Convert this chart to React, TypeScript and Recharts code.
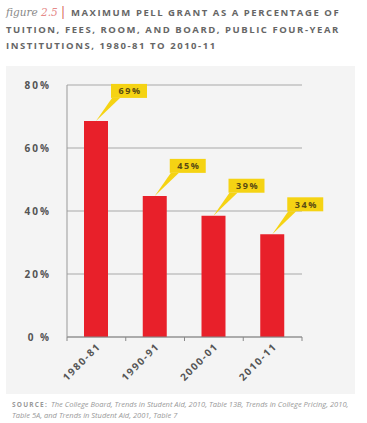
import { BarChart, Bar, XAxis, YAxis, CartesianGrid, LabelList } from 'recharts';

const years = ['1980-81', '1990-91', '2000-01', '2010-11'];
const pellShare = [68.6, 44.8, 38.5, 32.6];
const calloutLabels = ['69%', '45%', '39%', '34%'];
const yTicks = [0, 20, 40, 60, 80];

const data = years.map((year, i) => ({ year, value: pellShare[i], label: calloutLabels[i] }));

const CHART_W = 367;
const CHART_H = 423;
const PLOT_LEFT = 67;
const PLOT_RIGHT = 302;
const BAND = (PLOT_RIGHT - PLOT_LEFT) / years.length;

const FONT = '"Open Sans", "DejaVu Sans", sans-serif';

function YTick({ x, y, payload }: any) {
  return (
    <text
      x={x - 2}
      y={y}
      dy={4}
      textAnchor="end"
      fill="#555"
      fontFamily={FONT}
      fontWeight={700}
      fontSize={10}
      style={{ letterSpacing: '2px' }}
    >
      {payload.value === 0 ? '0 %' : `${payload.value}%`}
    </text>
  );
}

function XTick({ x, y, payload, index }: any) {
  const left = x - BAND / 2;
  return (
    <g>
      <line x1={left} y1={y - 8} x2={left} y2={y - 4} stroke="#888" />
      {index === years.length - 1 && (
        <line x1={x + BAND / 2} y1={y - 8} x2={x + BAND / 2} y2={y - 4} stroke="#888" />
      )}
      <text
        x={x + 5}
        y={y + 2}
        textAnchor="end"
        transform={`rotate(-45, ${x + 5}, ${y + 2})`}
        fill="#555"
        fontFamily={FONT}
        fontWeight={700}
        fontSize={10}
        style={{ letterSpacing: '1.6px' }}
      >
        {payload.value}
      </text>
    </g>
  );
}

function Callout(props: any) {
  const { x, y, width, index } = props;
  const cx = x + width / 2;
  const bx = cx + 15;
  const bw = 36;
  const bh = 14;
  const by = y - 23 - bh;
  return (
    <g>
      <polygon points={`${cx},${y} ${bx + 1},${by + bh} ${bx + 9},${by + bh}`} fill="#f5d313" />
      <rect x={bx} y={by} width={bw} height={bh} fill="#f5d313" />
      <text
        x={bx + bw / 2 + 1}
        y={by + 10.5}
        textAnchor="middle"
        fill="#5a4b14"
        fontFamily={FONT}
        fontWeight={700}
        fontSize={9}
        style={{ letterSpacing: '1.6px' }}
      >
        {calloutLabels[index]}
      </text>
    </g>
  );
}

export default function App() {
  return (
    <div
      style={{
        position: 'absolute',
        left: 0,
        top: 0,
        width: CHART_W,
        height: CHART_H,
        background: '#fff',
        overflow: 'hidden',
      }}
    >
      <div style={{ position: 'absolute', left: 6, top: 66, width: 349, height: 328, background: '#f4f4f4' }} />
      <div
        style={{
          position: 'absolute',
          left: 6,
          top: 4,
          width: 360,
          fontFamily: FONT,
          fontWeight: 700,
          fontSize: 9.5,
          letterSpacing: '1.55px',
          lineHeight: '16.5px',
          color: '#666',
          whiteSpace: 'nowrap',
        }}
      >
        <div>
          <span style={{ fontFamily: '"DejaVu Serif", serif', fontStyle: 'italic', fontWeight: 400, fontSize: 10.5, letterSpacing: 0, color: '#888' }}>
            figure <span style={{ color: '#e58a8a' }}>2.5</span>
          </span>
          <span style={{ color: '#d23b3b', fontWeight: 400, fontSize: 12, margin: '0 3px 0 2px' }}>|</span>
          MAXIMUM PELL GRANT AS A PERCENTAGE OF
        </div>
        <div>TUITION, FEES, ROOM, AND BOARD, PUBLIC FOUR-YEAR</div>
        <div>INSTITUTIONS, 1980-81 TO 2010-11</div>
      </div>
      <div style={{ position: 'absolute', left: 0, top: 0 }}>
        <BarChart
          width={CHART_W}
          height={CHART_H}
          data={data}
          margin={{ top: 85, right: CHART_W - PLOT_RIGHT, bottom: 46, left: 0 }}
          barSize={24}
        >
          <CartesianGrid horizontal vertical={false} stroke="#a8a8a8" />
          <XAxis
            dataKey="year"
            height={40}
            axisLine={{ stroke: '#888' }}
            tickLine={false}
            tick={<XTick />}
            interval={0}
          />
          <YAxis
            width={PLOT_LEFT}
            domain={[0, 80]}
            ticks={yTicks}
            axisLine={{ stroke: '#999' }}
            tickLine={false}
            tick={<YTick />}
            tickMargin={8}
          />
          <Bar dataKey="value" fill="#e8202a" isAnimationActive={false}>
            <LabelList dataKey="label" content={<Callout />} />
          </Bar>
        </BarChart>
      </div>
      <div
        style={{
          position: 'absolute',
          left: 12,
          top: 399,
          width: 350,
          fontFamily: FONT,
          fontSize: 7.5,
          lineHeight: '11px',
          color: '#999',
          fontStyle: 'italic',
          whiteSpace: 'nowrap',
        }}
      >
        <div>
          <span style={{ fontStyle: 'normal', fontWeight: 700, fontSize: 6.5, letterSpacing: '1.2px', marginRight: 3 }}>SOURCE:</span>
          <span>The College Board, Trends in Student Aid, 2010, Table 13B, Trends in College Pricing, 2010,</span>
        </div>
        <div>Table 5A, and Trends in Student Aid, 2001, Table 7</div>
      </div>
    </div>
  );
}
